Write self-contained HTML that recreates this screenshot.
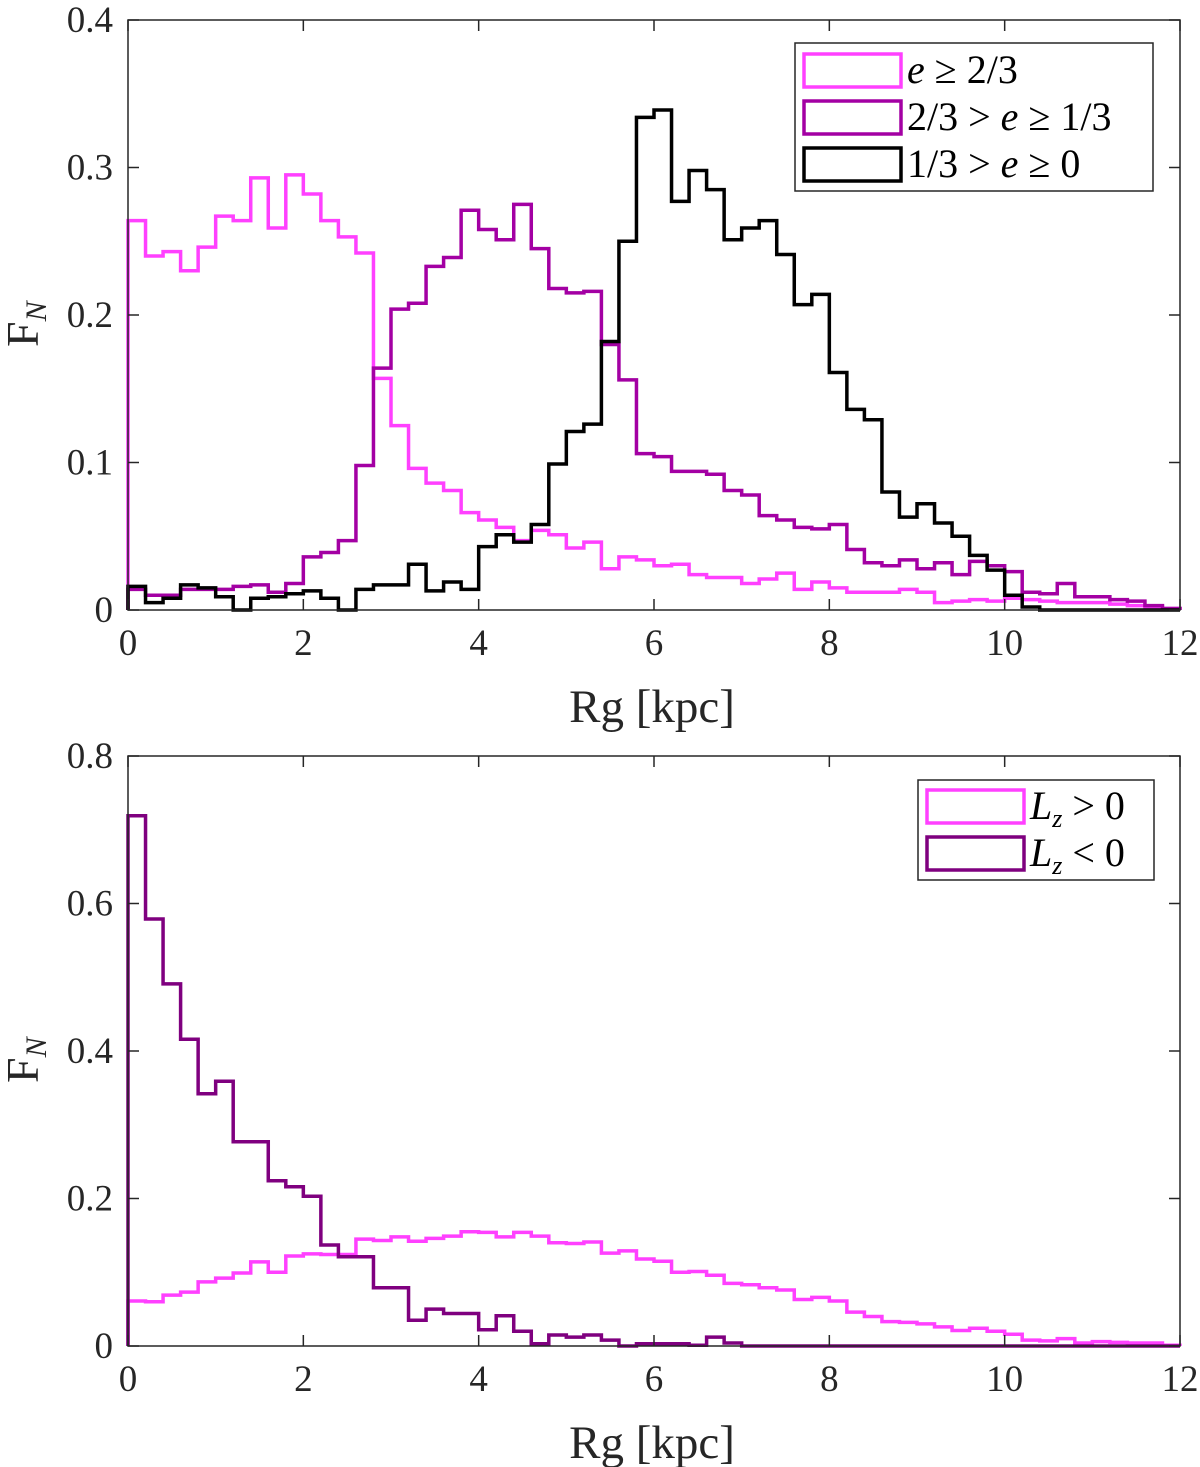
<!DOCTYPE html>
<html><head><meta charset="utf-8"><style>
body{margin:0;background:#fff;}
svg{display:block;font-family:"Liberation Serif",serif;}
</style></head><body>
<svg id="chart" width="1200" height="1467" viewBox="0 0 1200 1467"></svg>
<script>
const xTicks=[0,2,4,6,8,10,12];
const topYTicks=[0,0.1,0.2,0.3,0.4];
const botYTicks=[0,0.2,0.4,0.6,0.8];
const binWidth=0.2;
const highE=[0.264,0.240,0.243,0.230,0.246,0.267,0.264,0.293,0.259,0.295,0.282,0.264,0.253,0.242,0.157,0.125,0.096,0.086,0.081,0.066,0.061,0.056,0.047,0.054,0.051,0.042,0.046,0.028,0.036,0.034,0.030,0.031,0.024,0.022,0.022,0.018,0.021,0.025,0.014,0.019,0.015,0.012,0.012,0.012,0.014,0.012,0.005,0.006,0.007,0.006,0.008,0.007,0.006,0.005,0.005,0.005,0.004,0.003,0.002,0.001];
const midE=[0.014,0.010,0.010,0.014,0.014,0.014,0.016,0.017,0.012,0.018,0.036,0.039,0.047,0.098,0.164,0.204,0.208,0.233,0.239,0.271,0.258,0.251,0.275,0.245,0.218,0.215,0.216,0.180,0.156,0.106,0.104,0.094,0.094,0.092,0.081,0.078,0.064,0.061,0.056,0.055,0.058,0.041,0.032,0.030,0.034,0.028,0.032,0.024,0.033,0.030,0.026,0.012,0.011,0.018,0.009,0.009,0.007,0.006,0.003,0.001];
const lowE=[0.016,0.005,0.008,0.017,0.015,0.009,0.000,0.008,0.009,0.011,0.013,0.008,0.000,0.014,0.017,0.017,0.031,0.013,0.019,0.014,0.043,0.051,0.046,0.058,0.099,0.121,0.126,0.182,0.250,0.334,0.339,0.277,0.298,0.285,0.251,0.259,0.264,0.241,0.207,0.214,0.161,0.136,0.129,0.080,0.063,0.072,0.059,0.050,0.037,0.027,0.010,0.002,0,0,0,0,0,0,0,0];
const lzPos=[0.061,0.060,0.069,0.073,0.087,0.092,0.099,0.114,0.100,0.122,0.125,0.124,0.124,0.145,0.143,0.148,0.142,0.146,0.149,0.155,0.154,0.148,0.154,0.149,0.140,0.139,0.141,0.126,0.129,0.118,0.115,0.100,0.101,0.096,0.085,0.083,0.079,0.076,0.063,0.066,0.061,0.046,0.040,0.033,0.032,0.030,0.026,0.021,0.024,0.020,0.016,0.008,0.007,0.010,0.004,0.006,0.005,0.004,0.004,0.001];
const lzNeg=[0.719,0.579,0.491,0.416,0.342,0.359,0.277,0.277,0.224,0.216,0.203,0.137,0.121,0.121,0.079,0.079,0.035,0.050,0.044,0.044,0.022,0.041,0.020,0.003,0.015,0.012,0.015,0.008,0,0.003,0.003,0.003,0.001,0.012,0.004,0,0,0,0,0,0,0,0,0,0,0,0,0,0,0,0,0,0,0,0,0,0,0,0,0];

const NS="http://www.w3.org/2000/svg";
const svg=document.getElementById('chart');
function mk(tag,attrs,parent){const e=document.createElementNS(NS,tag);for(const k in attrs)e.setAttribute(k,attrs[k]);(parent||svg).appendChild(e);return e;}

function panel(name,top,bottom,yMax,yTicks,series,legend,legendBox){
  const L=128,R=1180;
  const g=mk('g',{});
  
  
  const sx=v=>L+(v/12)*(R-L);
  const sy=v=>bottom-(v/yMax)*(bottom-top);
  series.forEach(s=>{
    let d='M'+sx(0)+','+sy(0);
    s.data.forEach((v,i)=>{d+=' L'+sx(i*binWidth)+','+sy(v)+' L'+sx((i+1)*binWidth)+','+sy(v);});
    d+=' L'+sx(12)+','+sy(0);
    const p=mk('path',{d:d,fill:'none',stroke:s.color,'stroke-width':3.5,'stroke-linejoin':'miter'},g);
    
    
  });
  const box=mk('rect',{x:L,y:top,width:R-L,height:bottom-top,fill:'none',stroke:'#262626','stroke-width':1.5},g);
  
  
  xTicks.forEach(t=>{
    mk('line',{x1:sx(t),x2:sx(t),y1:bottom,y2:bottom-11,stroke:'#262626','stroke-width':1.5},g);
    mk('line',{x1:sx(t),x2:sx(t),y1:top,y2:top+11,stroke:'#262626','stroke-width':1.5},g);
    const tx=mk('text',{x:sx(t),y:bottom+45,'font-size':37,'text-anchor':'middle',fill:'#262626'},g);
    tx.textContent=t;
    
    
  });
  yTicks.forEach(t=>{
    mk('line',{x1:L,x2:L+11,y1:sy(t),y2:sy(t),stroke:'#262626','stroke-width':1.5},g);
    mk('line',{x1:R,x2:R-11,y1:sy(t),y2:sy(t),stroke:'#262626','stroke-width':1.5},g);
    const tx=mk('text',{x:113,y:sy(t)+12,'font-size':37,'text-anchor':'end',fill:'#262626'},g);
    tx.textContent=t===0?'0':t.toFixed(1);
    
    
  });
  const xt=mk('text',{x:(L+R)/2-2,y:bottom+112,'font-size':47,'text-anchor':'middle',fill:'#262626'},g);
  xt.textContent='Rg [kpc]';
  
  
  const cy=(top+bottom)/2;
  const yt=mk('text',{x:0,y:0,'font-size':46,fill:'#262626',transform:'translate(38,'+(cy+32)+') rotate(-90)'},g);
  yt.innerHTML='F<tspan font-size="30" font-style="italic" dy="8">N</tspan>';
  
  
  const lg=mk('g',{},g);
  
  
  mk('rect',{x:legendBox.x,y:legendBox.y,width:legendBox.w,height:legendBox.h,fill:'#fff',stroke:'#262626','stroke-width':1.5},lg);
  legend.forEach((it,i)=>{
    const ry=legendBox.y+legendBox.first+i*legendBox.step;
    const e=mk('g',{},lg);
    
    
    mk('rect',{x:legendBox.x+9,y:ry-16,width:97,height:33,fill:'none',stroke:it.color,'stroke-width':3.5},e);
    const t=mk('text',{x:legendBox.x+112,y:ry+13,'font-size':40,fill:'#000'},e);
    t.setAttribute('xml:space','preserve');
    t.innerHTML=it.label;
  });
}
panel('top-panel',20,610,0.4,topYTicks,
  [{name:'series-high-e',data:highE,color:'#ff40ff'},{name:'series-mid-e',data:midE,color:'#a300a3'},{name:'series-low-e',data:lowE,color:'#000'}],
  [{color:'#ff40ff',label:'<tspan font-style="italic">e</tspan>  ≥  2/3'},{color:'#a300a3',label:'2/3  &gt;  <tspan font-style="italic">e</tspan>  ≥  1/3'},{color:'#000',label:'1/3  &gt;  <tspan font-style="italic">e</tspan>  ≥  0'}],
  {x:795,y:43,w:358,h:148,first:27,step:47});
panel('bottom-panel',756,1346,0.8,botYTicks,
  [{name:'series-lz-positive',data:lzPos,color:'#ff40ff'},{name:'series-lz-negative',data:lzNeg,color:'#7f007f'}],
  [{color:'#ff40ff',label:'<tspan font-style="italic">L</tspan><tspan font-style="italic" font-size="26" dy="8">z</tspan><tspan dy="-8">  &gt;  0</tspan>'},{color:'#7f007f',label:'<tspan font-style="italic">L</tspan><tspan font-style="italic" font-size="26" dy="8">z</tspan><tspan dy="-8">  &lt;  0</tspan>'}],
  {x:918,y:780,w:236,h:100,first:26,step:47});
</script>
</body></html>
